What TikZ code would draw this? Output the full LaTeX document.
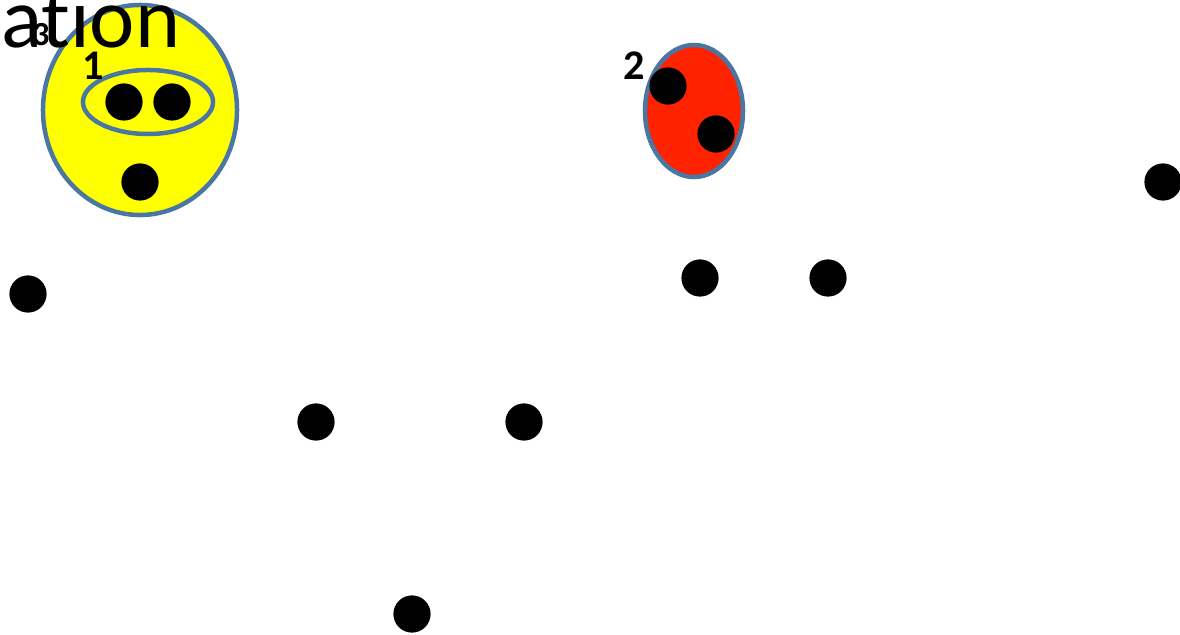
\documentclass[tikz,border=0pt]{standalone}
\usepackage{fontspec}
\setmainfont[Ligatures=NoCommon]{Carlito}
\usepackage{xcolor}
\usetikzlibrary{shapes.geometric,positioning}

\definecolor{rimblue}{HTML}{4A76A2}
\definecolor{setyellow}{HTML}{FFFF00}
\definecolor{setred}{HTML}{FF2200}

\begin{document}
\begin{tikzpicture}[
    x=0.025cm, y=-0.025cm,
    token/.style={circle, fill=black, inner sep=0pt, minimum size=0.93cm},
    bigset/.style={ellipse, draw=rimblue, line width=3.2pt, inner sep=0pt},
    tag/.style={inner sep=0pt, anchor=base, font=\bfseries\fontsize{30}{30}\selectfont},
    title/.style={inner sep=0pt, anchor=base west, font=\fontsize{61}{61}\selectfont}
]
    \useasboundingbox (0,0) rectangle (1180,635);

    % sets
    \node [bigset, fill=setyellow, minimum width=4.85cm, minimum height=5.25cm] (s3) at (140,110) {};
    \node [bigset, minimum width=3.25cm, minimum height=1.6cm] (s1) at (148,102) {};
    \node [bigset, fill=setred, minimum width=2.45cm, minimum height=3.3cm] (s2) at (694,111) {};

    % labels
    \node [tag, font=\bfseries\fontsize{24}{24}\selectfont] (l3) at (41,46) {3};
    \node [title] (t) at (1,48) {ation};
    \node [tag] (l1) at (93,80) {1};
    \node [tag] (l2) at (634,80) {2};

    % tokens
    \node [token] (p1) at (124,102) {};
    \node [token] (p2) at (172,102) {};
    \node [token] (p3) at (140,182) {};
    \node [token] (p4) at (668,86) {};
    \node [token] (p5) at (716,134) {};
    \node [token] (p6) at (1163,182) {};
    \node [token] (p7) at (28,294) {};
    \node [token] (p8) at (700,278) {};
    \node [token] (p9) at (828,278) {};
    \node [token] (p10) at (316,422) {};
    \node [token] (p11) at (524,422) {};
    \node [token] (p12) at (412,614) {};
\end{tikzpicture}
\end{document}
